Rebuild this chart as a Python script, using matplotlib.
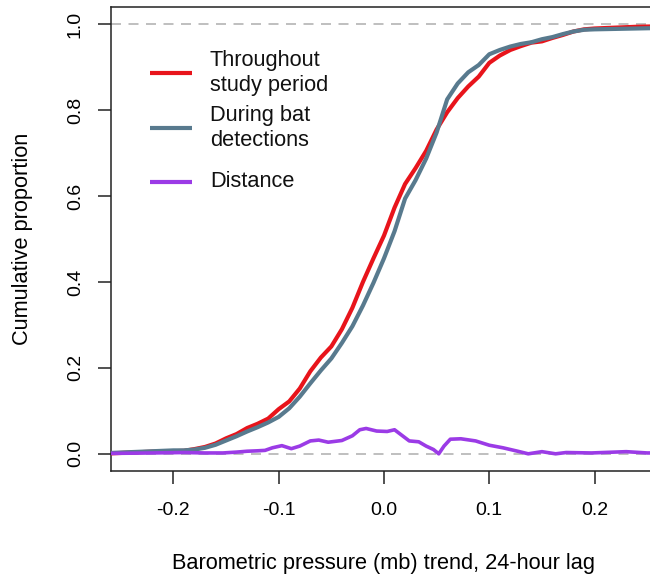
"""ECDF of 24-hour barometric pressure trend: whole study period vs bat detections."""

import matplotlib

matplotlib.use("Agg")
import matplotlib.pyplot as plt
from matplotlib.lines import Line2D

plt.rcParams["font.family"] = ["Liberation Sans", "DejaVu Sans"]

# pressure trend (mb), common grid for the two ECDFs
trend = [-0.26, -0.24, -0.22, -0.20, -0.19, -0.18, -0.17, -0.16, -0.15, -0.14,
         -0.13, -0.12, -0.11, -0.10, -0.09, -0.08, -0.07, -0.06, -0.05, -0.04,
         -0.03, -0.02, -0.01, 0.00, 0.01, 0.02, 0.03, 0.04, 0.05, 0.06,
         0.07, 0.08, 0.09, 0.10, 0.11, 0.12, 0.13, 0.14, 0.15, 0.16,
         0.17, 0.18, 0.19, 0.20, 0.22, 0.24, 0.26]
study_period = [0.001, 0.003, 0.005, 0.006, 0.007, 0.011, 0.016, 0.024, 0.036, 0.046,
                0.060, 0.070, 0.082, 0.104, 0.122, 0.152, 0.192, 0.224, 0.250, 0.290,
                0.340, 0.400, 0.455, 0.508, 0.573, 0.628, 0.665, 0.705, 0.755, 0.795,
                0.828, 0.855, 0.878, 0.910, 0.927, 0.940, 0.949, 0.957, 0.960, 0.968,
                0.975, 0.983, 0.988, 0.990, 0.992, 0.994, 0.995]
bat_detections = [0.002, 0.004, 0.006, 0.008, 0.008, 0.010, 0.014, 0.021, 0.031, 0.041,
                  0.052, 0.062, 0.073, 0.086, 0.106, 0.133, 0.164, 0.194, 0.222, 0.258,
                  0.297, 0.345, 0.398, 0.455, 0.518, 0.594, 0.637, 0.687, 0.748, 0.825,
                  0.862, 0.888, 0.905, 0.930, 0.940, 0.948, 0.954, 0.958, 0.965, 0.970,
                  0.977, 0.983, 0.987, 0.988, 0.989, 0.990, 0.991]

# distance between the two ECDFs
dist_trend = [-0.26, -0.22, -0.19, -0.17, -0.153, -0.14, -0.13, -0.12, -0.113, -0.106,
              -0.097, -0.088, -0.08, -0.07, -0.062, -0.053, -0.04, -0.03, -0.023, -0.017,
              -0.007, 0.003, 0.01, 0.017, 0.024, 0.033, 0.04, 0.047, 0.052, 0.057,
              0.063, 0.073, 0.087, 0.1, 0.113, 0.127, 0.137, 0.15, 0.163, 0.173,
              0.197, 0.23, 0.25, 0.26]
distance = [0.001, 0.002, 0.003, 0.002, 0.002, 0.004, 0.006, 0.007, 0.008, 0.014,
            0.019, 0.012, 0.018, 0.030, 0.032, 0.027, 0.031, 0.042, 0.056, 0.059,
            0.053, 0.052, 0.056, 0.043, 0.030, 0.028, 0.018, 0.010, 0.0, 0.018,
            0.034, 0.035, 0.030, 0.020, 0.014, 0.006, 0.0, 0.005, 0.0, 0.003,
            0.002, 0.005, 0.002, 0.002]

RED = "#e8141b"
SLATE = "#587a8e"
PURPLE = "#9b3be6"
LABEL_SIZE = 15.7


def style_axes(ax) -> None:
    for spine in ax.spines.values():
        spine.set_linewidth(1.1)
        spine.set_color("#222222")
    ax.tick_params(length=9.5, width=1.1, color="#222222", labelsize=14)
    ax.tick_params(axis="y", pad=10, labelrotation=90)
    ax.tick_params(axis="x", pad=13)
    for lab in ax.get_yticklabels():
        lab.set_verticalalignment("center")


def draw_legend(ax) -> None:
    entries = [
        (RED, "Throughout\nstudy period", 0.857),
        (SLATE, "During bat\ndetections", 0.739),
        (PURPLE, "Distance", 0.6235),
    ]
    for color, label, y in entries:
        ax.add_line(Line2D([0.0714, 0.1478], [y, y], color=color, lw=3,
                           transform=ax.transAxes, solid_capstyle="butt"))
        ax.text(0.1813, y, label, transform=ax.transAxes, fontsize=LABEL_SIZE,
                va="center", ha="left", linespacing=1.25, color="#111111")


def main() -> None:
    fig = plt.figure(figsize=(6.5, 5.8), dpi=100)
    # right edge of the box falls just outside the canvas, as in the source
    ax = fig.add_axes([111 / 650, 109 / 580, 546 / 650, 464 / 580])

    for level in (0, 1):
        ax.axhline(level, color="#b4b4b4", lw=1.2, dashes=(6, 4.5), zorder=1)

    ax.plot(trend, study_period, color=RED, lw=3, zorder=3)
    ax.plot(trend, bat_detections, color=SLATE, lw=3, zorder=4)
    ax.plot(dist_trend, distance, color=PURPLE, lw=2.6, zorder=5)

    ax.set_xlim(-0.2593, 0.2593)
    ax.set_ylim(-0.04, 1.04)
    ax.set_xticks([-0.2, -0.1, 0.0, 0.1, 0.2])
    ax.set_xticklabels(["-0.2", "-0.1", "0.0", "0.1", "0.2"])
    ax.set_yticks([0.0, 0.2, 0.4, 0.6, 0.8, 1.0])
    ax.set_yticklabels(["0.0", "0.2", "0.4", "0.6", "0.8", "1.0"])
    style_axes(ax)

    ax.set_xlabel("Barometric pressure (mb) trend, 24-hour lag", fontsize=LABEL_SIZE)
    ax.set_ylabel("Cumulative proportion", fontsize=LABEL_SIZE)
    ax.xaxis.set_label_coords(0.5, -0.177)
    ax.yaxis.set_label_coords(-0.143, 0.5)

    draw_legend(ax)
    fig.savefig("out.png", dpi=100)
    plt.close(fig)


if __name__ == "__main__":
    main()
